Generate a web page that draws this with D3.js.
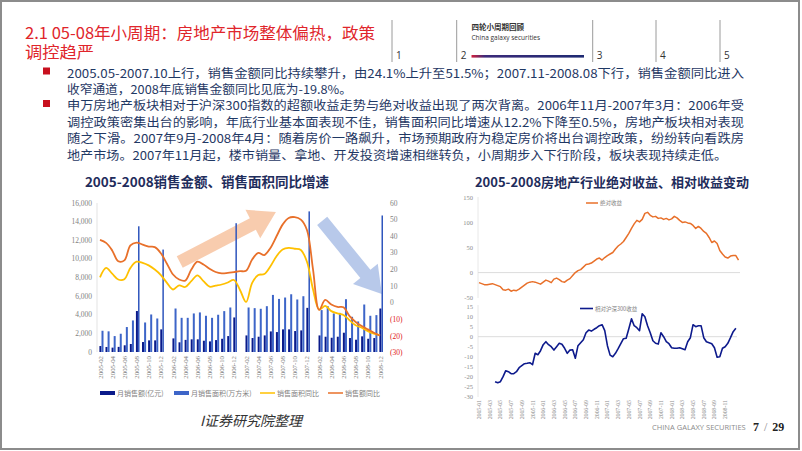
<!DOCTYPE html>
<html><head><meta charset="utf-8">
<script src="https://cdn.jsdelivr.net/npm/d3@7"></script>
<style>body{margin:0;background:#fff}svg{display:block}</style>
</head><body><svg id="c" width="802" height="451"></svg>
<script>
// ---------- DATA ----------
const leftMonths = ["2005-02","2005-03","2005-04","2005-05","2005-06","2005-07","2005-08","2005-09","2005-10","2005-11","2005-12",
 "2006-01","2006-02","2006-03","2006-04","2006-05","2006-06","2006-07","2006-08","2006-09","2006-10","2006-11","2006-12",
 "2007-01","2007-02","2007-03","2007-04","2007-05","2007-06","2007-07","2007-08","2007-09","2007-10","2007-11","2007-12",
 "2008-01","2008-02","2008-03","2008-04","2008-05","2008-06","2008-07","2008-08","2008-09","2008-10","2008-11","2008-12"];
const salesAmount = [640,540,470,550,720,860,4400,1070,1250,1250,2430,
 null,1460,1040,1300,1360,1360,1210,1140,1280,1420,1710,3710,
 null,1780,1500,1640,1780,2210,2140,2430,2430,2250,2320,4740,
 null,1780,1640,1530,1640,2070,1500,1320,1680,1420,1500,4670];
const salesArea = [2280,2220,1710,1960,2680,3390,13500,3170,4030,3600,11000,
 null,4670,3670,3670,4140,4250,3890,3670,4000,4390,4780,13830,
 null,4780,4710,4640,4920,6130,5700,5850,6200,5640,5990,15100,
 null,4500,4920,4140,4200,5670,3780,3280,5100,3890,3960,14660];
const areaYoY = [15.3,21,17.5,14,14.2,21,24.7,24,22.5,20,16.7,
 12,8,10.5,9.5,13,16.5,13,9.7,10.3,11,12.2,13.7,
 7.7,0.5,12,16.7,17.3,22,28,32,33,32.5,31.8,24.7,
 8,-4,-1.9,-5,-6.3,-7.3,-10.5,-13.5,-15,-17,-18.5,-19.5];
const amountYoY = [37.8,36,31.5,25,25.5,34.5,36.2,35,33.8,33.5,29.8,
 23.5,17,14,13.3,20,24.7,23,20.5,18.5,17.7,18,18.5,
 19,19.3,26,30,28.7,33,40,47,51,51.5,50,43.8,
 20,-4.3,1.7,-1,-2.5,-2.7,-8,-11.5,-14,-16,-18,-19.8];
const leftTicks = [0,2000,4000,6000,8000,10000,12000,14000,16000];
const rightTicks = [-30,-20,-10,0,10,20,30,40,50,60];
const leftLegend = ["月销售额(亿元)","月销售面积(万方米)","销售面积同比","销售额同比"];

// right charts: half-month samples; absolute return starts 2005-01, relative starts 2005-04
const rightMonthLabels = ["2005-01","2005-03","2005-05","2005-07","2005-09","2005-11","2006-01","2006-03","2006-05","2006-07","2006-09","2006-11",
 "2007-01","2007-03","2007-05","2007-07","2007-09","2007-11","2008-01","2008-03","2008-05","2008-07","2008-09","2008-11"];
const absReturn = [-20,-22,-24,-24,-23,-22,-24,-26,-28,-34,
 -35,-33,-37,-35,-36,-33,-29,-25,-21,-19,
 -18,-19,-21,-23,-19,-15,-17,-20,-13,-11,
 -14,-18,-19,-15,-12,-6,0,4,6,11,
 16,17,19,23,27,29,25,30,34,37,
 40,47,53,57,62,70,78,88,97,104,
 101,106,118,120,114,111,112,108,109,106,
 108,105,107,112,109,104,100,101,99,98,
 94,88,92,88,82,78,70,60,63,58,
 44,37,31,29,33,34,34,25];
const relReturn = [-22.5,-23,-22.5,-20,-17,-17.5,-18.5,-18.5,-17.5,-15.5,
 -14.5,-13.5,-13.3,-13,-14,-8.3,-9,-7,-4,-2.5,
 -4,-5,-6.7,-5,-3.3,-3.8,-5.8,-8.3,-6.7,-6.5,
 -10.8,-4.5,-3,-1.5,2,3.3,2.8,3.7,4.5,5.5,
 6,3,-4.5,-9.2,-10,-8.3,-6,-3.5,-1,-0.8,
 4,9,5.5,4.5,3,11.5,10,5.5,2,-2,
 -3.3,-3.7,2,0,-2.5,-3.5,-5.5,-5.8,-5.8,-5.5,
 -6,-6.5,-2.5,-0.5,6,5,5.5,5.5,-0.5,-2.5,
 -3,-3.5,-5.5,-10.3,-10,-5.8,-5,-3.3,-0.5,2.5,
 4.2];
const absTicks = [-50,0,50,100,150];
const relTicks = [-30,-25,-20,-15,-10,-5,0,5,10,15];

const bulletLines = [
 {t:"2005.05-2007.10上行，销售金额同比持续攀升，由24.1%上升至51.5%；2007.11-2008.08下行，销售金额同比进入", w:677, b:true},
 {t:"收窄通道，2008年底销售金额同比见底为-19.8%。", w:285, b:false},
 {t:"申万房地产板块相对于沪深300指数的超额收益走势与绝对收益出现了两次背离。2006年11月-2007年3月：2006年受", w:677, b:true},
 {t:"调控政策密集出台的影响，年底行业基本面表现不佳，销售面积同比增速从12.2%下降至0.5%，房地产板块相对表现", w:677, b:false},
 {t:"随之下滑。2007年9月-2008年4月：随着房价一路飙升，市场预期政府为稳定房价将出台调控政策，纷纷转向看跌房", w:677, b:false},
 {t:"地产市场。2007年11月起，楼市销量、拿地、开发投资增速相继转负，小周期步入下行阶段，板块表现持续走低。", w:660, b:false}
];

// ---------- DRAW ----------
const svg = d3.select("#c");
const CJK = "'Noto Sans CJK SC','Noto Sans',sans-serif";
const SERIF = "'Liberation Serif','DejaVu Serif',serif";

// slide frame
svg.append("rect").attr("x",1).attr("y",1).attr("width",798).attr("height",448)
  .attr("fill","none").attr("stroke","#8c8c8c").attr("stroke-width",2);

// title
svg.append("text").attr("x",25).attr("y",39).attr("font-family",CJK).attr("font-size",16)
  .attr("fill","#e0252b").attr("textLength",350).attr("lengthAdjust","spacingAndGlyphs")
  .text("2.1 05-08年小周期：房地产市场整体偏热，政策");
svg.append("text").attr("x",25).attr("y",58).attr("font-family",CJK).attr("font-size",16)
  .attr("fill","#e0252b").attr("textLength",69).attr("lengthAdjust","spacingAndGlyphs").text("调控趋严");

// nav
const navX = [392,456.7,592.7,656,720];
const nav = svg.append("g");
navX.forEach((x,i)=>{
  nav.append("line").attr("x1",x).attr("x2",x).attr("y1",20).attr("y2",62).attr("stroke","#9a9a9a").attr("stroke-width",1);
  nav.append("text").attr("x",x+4).attr("y",59).attr("font-family","'Open Sans',sans-serif").attr("font-size",10).attr("fill","#333").text(i+1);
});
nav.append("text").attr("x",471.5).attr("y",30).attr("font-family",CJK).attr("font-size",7.5).attr("font-weight","bold").attr("fill","#333").text("四轮小周期回顾");
nav.append("text").attr("x",471.5).attr("y",40).attr("font-family","'Open Sans',sans-serif").attr("font-size",6.5).attr("fill","#333").text("China galaxy securities");
const grad = svg.append("defs").append("linearGradient").attr("id","ng");
grad.append("stop").attr("offset","0%").attr("stop-color","#d3203c");
grad.append("stop").attr("offset","12%").attr("stop-color","#3b2a7a");
grad.append("stop").attr("offset","100%").attr("stop-color","#1e2a72");
nav.append("rect").attr("x",471.5).attr("y",55).attr("width",112.5).attr("height",2.6).attr("fill","url(#ng)");

// bullets
const bBase = [77.5,93.5,110,126.5,143,159.5];
bulletLines.forEach((l,i)=>{
  if(l.b) svg.append("rect").attr("x",43).attr("y",bBase[i]-10).attr("width",7).attr("height",7).attr("fill","#c8101e");
  svg.append("text").attr("x",67).attr("y",bBase[i]).attr("font-family",CJK).attr("font-size",12)
    .attr("fill","#1f3864").attr("textLength",l.w).attr("lengthAdjust","spacingAndGlyphs").text(l.t);
});

// ---------- LEFT CHART ----------
const L = svg.append("g");
L.append("text").attr("x",207).attr("y",187).attr("text-anchor","middle").attr("font-family",CJK)
  .attr("font-size",13.5).attr("font-weight","bold").attr("fill","#1f2d5c").text("2005-2008销售金额、销售面积同比增速");

const xL = d3.scalePoint().domain(leftMonths).range([100,380]);
const yL = d3.scaleLinear().domain([0,16000]).range([352,203]);
const yR = d3.scaleLinear().domain([-30,60]).range([352.7,203]);
const xIdx = d3.scaleLinear().domain([0,leftMonths.length-1]).range([100,380]);

// arrows (annotation, in data space: month index, right-axis value)
function arrow(g,p0,p1,w,L0,hw,fill,op){
  const dx=p1[0]-p0[0], dy=p1[1]-p0[1], len=Math.hypot(dx,dy);
  const ux=dx/len, uy=dy/len, nx=-uy, ny=ux;
  const bx=p1[0]-ux*L0, by=p1[1]-uy*L0;
  const pts=[[p0[0]+nx*w/2,p0[1]+ny*w/2],[bx+nx*w/2,by+ny*w/2],[bx+nx*hw/2,by+ny*hw/2],p1,
    [bx-nx*hw/2,by-ny*hw/2],[bx-nx*w/2,by-ny*w/2],[p0[0]-nx*w/2,p0[1]-ny*w/2]];
  g.append("polygon").attr("points",pts.map(p=>p.join(",")).join(" ")).attr("fill",fill).attr("opacity",op);
}
const arrowUp = {from:[13.1,24.5], to:[28.9,54.6]};
const arrowDown = {from:[36.5,49.2], to:[46.3,5.3]};
arrow(L,[xIdx(arrowUp.from[0]),yR(arrowUp.from[1])],[xIdx(arrowUp.to[0]),yR(arrowUp.to[1])],13,26,32,"#f7c3a0",0.85);
arrow(L,[xIdx(arrowDown.from[0]),yR(arrowDown.from[1])],[xIdx(arrowDown.to[0]),yR(arrowDown.to[1])],13,26,32,"#abc0e6",0.85);

// y axes
L.append("line").attr("x1",97).attr("x2",97).attr("y1",203).attr("y2",352).attr("stroke","#e3e3e3");
L.selectAll(".lt").data(leftTicks).join("text").attr("x",92).attr("y",d=>yL(d)+2.5).attr("text-anchor","end")
  .attr("font-family",SERIF).attr("font-size",7.5).attr("fill","#7f7f7f").text(d=>d3.format(",")(d));
L.selectAll(".rt").data(rightTicks).join("text").attr("x",390).attr("y",d=>yR(d)+2.5)
  .attr("font-family",SERIF).attr("font-size",7.5).attr("fill",d=>d<0?"#e02020":"#7f7f7f")
  .text(d=>d<0?"("+(-d)+")":d);

// bars
const barData = leftMonths.map((m,i)=>({m,a:salesAmount[i],s:salesArea[i]}));
L.selectAll(".ba").data(barData.filter(d=>d.a!=null)).join("rect")
  .attr("x",d=>xL(d.m)-0.6).attr("width",2).attr("y",d=>yL(d.a)).attr("height",d=>yL(0)-yL(d.a)).attr("fill","#0a1a8a");
L.selectAll(".bs").data(barData.filter(d=>d.s!=null)).join("rect")
  .attr("x",d=>xL(d.m)+1.5).attr("width",d=>d.s>9000?1.5:2).attr("y",d=>yL(d.s)).attr("height",d=>yL(0)-yL(d.s))
  .attr("fill",d=>d.s>9000?"#2f56bd":"#3d65c8");

// lines
const lineGen = d3.line().x((d,i)=>xL(leftMonths[i])).y(d=>yR(d)).curve(d3.curveCatmullRom.alpha(0.5));
L.append("path").attr("d",lineGen(areaYoY)).attr("fill","none").attr("stroke","#ffc000").attr("stroke-width",1.8);
L.append("path").attr("d",lineGen(amountYoY)).attr("fill","none").attr("stroke","#e8702a").attr("stroke-width",1.8);

// x labels
L.selectAll(".xl").data(leftMonths.filter((d,i)=>i%2===0)).join("text")
  .attr("transform",d=>`translate(${xL(d)+2.5},356) rotate(-90)`).attr("text-anchor","end")
  .attr("font-family",SERIF).attr("font-size",6.8).attr("fill","#7f7f7f").text(d=>d);

// legend
const lg = L.append("g").attr("font-family",CJK).attr("font-size",7).attr("fill","#7f7f7f");
lg.append("rect").attr("x",100).attr("y",391).attr("width",15).attr("height",4).attr("fill","#0a1a8a");
lg.append("text").attr("x",117).attr("y",396).text(leftLegend[0]);
lg.append("rect").attr("x",174).attr("y",391).attr("width",15).attr("height",4).attr("fill","#3d65c8");
lg.append("text").attr("x",191).attr("y",396).text(leftLegend[1]);
lg.append("line").attr("x1",260).attr("x2",275).attr("y1",393).attr("y2",393).attr("stroke","#ffc000").attr("stroke-width",1.5);
lg.append("text").attr("x",277).attr("y",396).text(leftLegend[2]);
lg.append("line").attr("x1",328).attr("x2",343).attr("y1",393).attr("y2",393).attr("stroke","#e8702a").attr("stroke-width",1.5);
lg.append("text").attr("x",345).attr("y",396).text(leftLegend[3]);

L.append("text").attr("x",200).attr("y",426).attr("font-family",CJK).attr("font-style","italic")
  .attr("font-size",14).attr("fill","#333").text("I证券研究院整理");

// ---------- RIGHT CHARTS ----------
const R = svg.append("g");
R.append("text").attr("x",612).attr("y",187).attr("text-anchor","middle").attr("font-family",CJK)
  .attr("font-size",13).attr("font-weight","bold").attr("fill","#1f2d5c").text("2005-2008房地产行业绝对收益、相对收益变动");

const xM = d3.scaleLinear().domain([0,47]).range([479,730.5]);
const yA = d3.scaleLinear().domain([-50,150]).range([297.7,197.3]);
const yB = d3.scaleLinear().domain([-30,15]).range([396.7,306.7]);

// top chart
R.append("line").attr("x1",478).attr("x2",478).attr("y1",197).attr("y2",298).attr("stroke","#e8e8e8");
R.append("line").attr("x1",478).attr("x2",740).attr("y1",yA(0)).attr("y2",yA(0)).attr("stroke","#dcdcdc");
R.selectAll(".at").data(absTicks).join("text").attr("x",473).attr("y",d=>yA(d)+2.3).attr("text-anchor","end")
  .attr("font-family",SERIF).attr("font-size",6.5).attr("fill","#8c8c8c").text(d=>d);
R.append("path").attr("d",d3.line().x((d,i)=>xM(i*0.5)).y(d=>yA(d))(absReturn))
  .attr("fill","none").attr("stroke","#e8702a").attr("stroke-width",1.5).attr("stroke-linejoin","round");
R.append("line").attr("x1",586).attr("x2",598).attr("y1",203).attr("y2",203).attr("stroke","#e8702a").attr("stroke-width",1.5);
R.append("text").attr("x",600).attr("y",205.3).attr("font-family",CJK).attr("font-size",5.5).attr("fill","#7f7f7f").text("绝对收益");

// bottom chart
R.append("line").attr("x1",478).attr("x2",478).attr("y1",305).attr("y2",397).attr("stroke","#e8e8e8");
R.append("line").attr("x1",478).attr("x2",737).attr("y1",yB(0)).attr("y2",yB(0)).attr("stroke","#dcdcdc");
R.selectAll(".bt").data(relTicks).join("text").attr("x",473).attr("y",d=>yB(d)+2.3).attr("text-anchor","end")
  .attr("font-family",SERIF).attr("font-size",6.5).attr("fill","#8c8c8c").text(d=>d);
R.append("path").attr("d",d3.line().x((d,i)=>xM(3+i*0.5)).y(d=>yB(d))(relReturn))
  .attr("fill","none").attr("stroke","#0d1a8c").attr("stroke-width",1.6).attr("stroke-linejoin","round");
R.append("line").attr("x1",580).attr("x2",593).attr("y1",308.5).attr("y2",308.5).attr("stroke","#0d1a8c").attr("stroke-width",1.6);
R.append("text").attr("x",595).attr("y",310.8).attr("font-family",CJK).attr("font-size",5.5).attr("fill","#7f7f7f").text("相对沪深300收益");
R.selectAll(".rx").data(rightMonthLabels).join("text")
  .attr("transform",(d,i)=>`translate(${xM(i*2)+2},400) rotate(-90)`).attr("text-anchor","end")
  .attr("font-family",SERIF).attr("font-size",5.8).attr("fill","#8c8c8c").text(d=>d);

// footer
svg.append("text").attr("x",652).attr("y",430).attr("font-family","'Open Sans',sans-serif").attr("font-size",7.5)
  .attr("fill","#8c8c8c").text("CHINA GALAXY SECURITIES");
const pg = svg.append("text").attr("x",753).attr("y",431).attr("font-family",SERIF).attr("font-size",12).attr("fill","#222");
pg.append("tspan").attr("font-weight","bold").text("7");
pg.append("tspan").attr("fill","#888").attr("dx",5).text("/");
pg.append("tspan").attr("font-weight","bold").attr("dx",5).text("29");
</script></body></html>
